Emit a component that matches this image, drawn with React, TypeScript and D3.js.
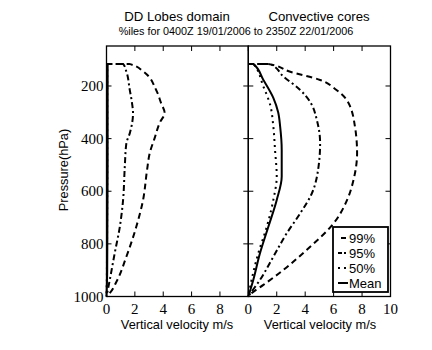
import React from "react";
import * as d3 from "d3";

// Left panel (DD Lobes domain)
const leftP99 = [[0,116],[1.6,116],[2.6,145],[3.5,215],[3.85,265],[4.1,302],[3.75,340],[3.4,397],[3.05,455],[2.86,519],[2.58,633],[2.1,735],[1.4,849],[0.7,944],[0.23,987],[0,1000]];
const leftP95 = [[0,116],[1.17,116],[1.4,145],[1.64,215],[1.8,265],[1.87,303],[1.64,380],[1.4,418],[1.29,506],[1.17,633],[0.94,735],[0.58,835],[0.23,937],[0,1000]];
const leftP50 = [[0,116],[0.05,116],[0.05,500],[0.03,900],[0,1000]];
const leftMean = [[0,116],[0.08,116],[0.08,500],[0.05,900],[0,1000]];

// Right panel (Convective cores)
const rightP99 = [[0,116],[1.4,116],[2.9,145],[5.05,177],[6.2,215],[7.0,260],[7.5,354],[7.65,455],[7.4,557],[6.95,633],[6.0,722],[4.1,823],[2.47,899],[1.06,956],[0.1,994],[0,1000]];
const rightP95 = [[0,116],[1.53,116],[2.47,164],[3.65,215],[4.4,265],[4.82,329],[5.05,418],[4.94,506],[4.47,608],[3.65,684],[2.7,760],[1.76,849],[0.82,937],[0.15,988],[0,1000]];
const rightP50 = [[0,116],[0.35,116],[1.06,202],[1.53,270],[1.76,354],[1.88,443],[2.0,544],[1.76,633],[1.3,735],[0.7,836],[0.23,937],[0,1000]];
const rightMean = [[0,116],[0.35,116],[1.06,177],[1.76,245],[2.1,300],[2.24,354],[2.35,443],[2.35,544],[2.0,633],[1.41,735],[0.82,836],[0.35,937],[0,1000]];

const yTicks = [200, 400, 600, 800, 1000];
const leftXTicks = [0, 2, 4, 6, 8];
const rightXTicks = [0, 2, 4, 6, 8, 10];
const legendLabels = ["99%", "95%", "50%", "Mean"];

const styles: Record<string, string | undefined> = {
  "99%": "6,4",
  "95%": "6,3,2,3",
  "50%": "2,4",
  "Mean": undefined,
};

const serif = "'Liberation Serif', 'DejaVu Serif', serif";
const sans = "'Liberation Sans', Arial, sans-serif";

export default function App() {
  const top = 46, bottom = 296.5;
  const y = d3.scaleLinear().domain([48, 1000]).range([top, bottom]);
  const xL = d3.scaleLinear().domain([0, 10]).range([106.5, 248.3]);
  const xR = d3.scaleLinear().domain([0, 10]).range([248.3, 390.5]);

  const mkLine = (xs: d3.ScaleLinear<number, number>) =>
    d3.line<number[]>().x(d => xs(d[0])).y(d => y(d[1])).curve(d3.curveMonotoneY);

  const lineL = mkLine(xL);
  const lineR = mkLine(xR);

  const series = (line: any, data: number[][][]) =>
    data.map((d, i) => (
      <path key={i} d={line(d) || ""} fill="none" stroke="#000" strokeWidth={2}
        strokeDasharray={styles[legendLabels[i]]} />
    ));

  const panel = (xs: d3.ScaleLinear<number, number>, xt: number[], showY: boolean) => {
    const [x0, x1] = xs.range();
    return (
      <g>
        {xt.map(t => (
          <g key={"x" + t}>
            <line x1={xs(t)} x2={xs(t)} y1={bottom} y2={bottom - 5} stroke="#000" />
            <line x1={xs(t)} x2={xs(t)} y1={top} y2={top + 5} stroke="#000" />
            <text x={xs(t)} y={bottom + 17} textAnchor="middle" fontFamily={serif} fontSize={15}>{t}</text>
          </g>
        ))}
        {yTicks.map(t => (
          <g key={"y" + t}>
            <line x1={x0} x2={x0 + 5} y1={y(t)} y2={y(t)} stroke="#000" />
            <line x1={x1} x2={x1 - 5} y1={y(t)} y2={y(t)} stroke="#000" />
            {showY && (
              <text x={x0 - 3} y={y(t) + 5} textAnchor="end" fontFamily={serif} fontSize={15}>{t}</text>
            )}
          </g>
        ))}
        <rect x={x0} y={top} width={x1 - x0} height={bottom - top} fill="none" stroke="#000" strokeWidth={1.3} />
      </g>
    );
  };

  const lx = 333, ly = 227;
  return (
    <svg width={432} height={350} style={{ position: "absolute", left: 0, top: 0 }}>
      <rect width={432} height={350} fill="#fff" />
      <text x={177} y={21} textAnchor="middle" fontFamily={sans} fontSize={13.2}>DD Lobes domain</text>
      <text x={319} y={21} textAnchor="middle" fontFamily={sans} fontSize={13.2}>Convective cores</text>
      <text x={236} y={35} textAnchor="middle" fontFamily={sans} fontSize={10.8}>%iles for 0400Z 19/01/2006 to 2350Z 22/01/2006</text>
      {series(lineL, [leftP99, leftP95, leftP50, leftMean])}
      {series(lineR, [rightP99, rightP95, rightP50, rightMean])}
      {panel(xL, leftXTicks, true)}
      {panel(xR, rightXTicks, false)}
      <text transform={`translate(68,170) rotate(-90)`} textAnchor="middle" fontFamily={sans} fontSize={12.8}>Pressure(hPa)</text>
      <text x={177} y={329} textAnchor="middle" fontFamily={sans} fontSize={12.8}>Vertical velocity m/s</text>
      <text x={320} y={329} textAnchor="middle" fontFamily={sans} fontSize={12.8}>Vertical velocity m/s</text>
      <rect x={lx} y={ly} width={55} height={65} fill="#fff" stroke="#000" strokeWidth={1.8} />
      {legendLabels.map((l, i) => (
        <g key={l}>
          <line x1={lx + 5} x2={lx + 15} y1={ly + 11 + i * 15} y2={ly + 11 + i * 15} stroke="#000" strokeWidth={2}
            strokeDasharray={l === "99%" ? "0,3,5,10" : l === "95%" ? "4,2,2,10" : l === "50%" ? "2,4" : undefined} />
          <text x={lx + 16} y={ly + 16 + i * 15} fontFamily={sans} fontSize={13}>{l}</text>
        </g>
      ))}
    </svg>
  );
}
